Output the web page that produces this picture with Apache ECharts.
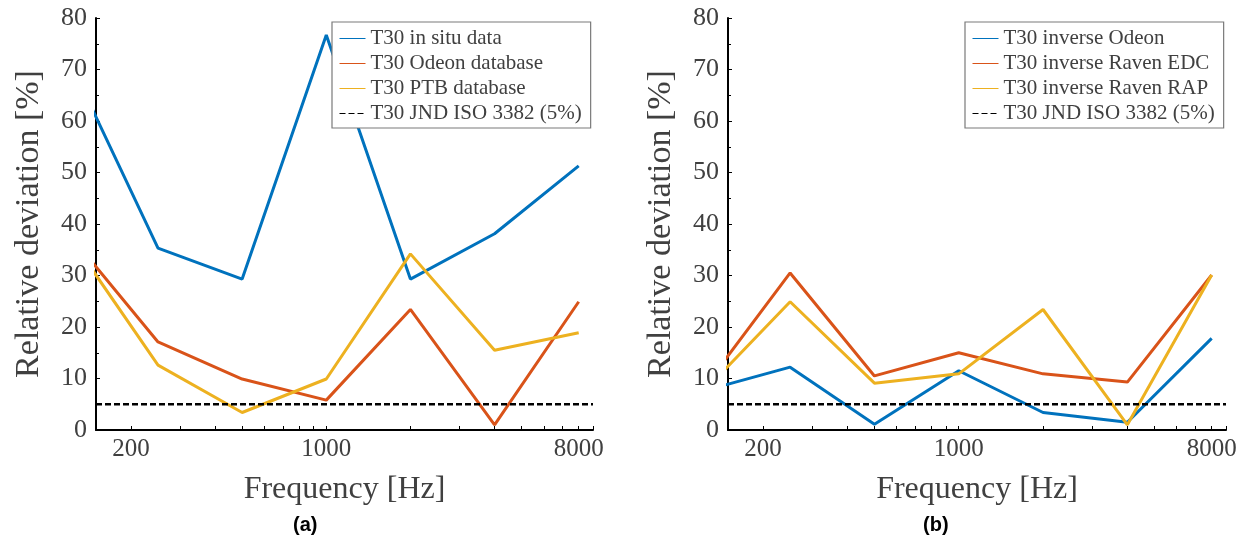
<!DOCTYPE html>
<html><head><meta charset="utf-8">
<script src="https://cdn.jsdelivr.net/npm/echarts@6/dist/echarts.min.js"></script>
<style>html,body{margin:0;padding:0;background:#fff}#c{width:1248px;height:542px}</style>
</head><body><div id="c"></div>
<script>
// ---- data ----
const freqs = [125, 250, 500, 1000, 2000, 4000, 8000];
const xMin = 150, xMax = 9000;
const JND = 5;
// panel (a)
const inSitu   = [69.9, 35.3, 29.3, 76.7, 29.3, 38.1, 51.3];
const odeonDb  = [36.9, 17.1, 9.9, 5.8, 23.4, 1.0, 24.9];
const ptbDb    = [36.3, 12.6, 3.4, 9.9, 34.2, 15.5, 18.9];
// panel (b)
const invOdeon = [7.7, 12.2, 1.1, 11.5, 3.4, 1.5, 17.8];
const invEDC   = [8.65, 30.5, 10.5, 15.0, 10.9, 9.3, 30.1];
const invRAP   = [7.9, 24.9, 9.1, 10.9, 23.4, 1.0, 30.1];
const xLabels = [200, 1000, 8000];
const xTicks = [200,300,400,500,600,700,800,900,1000,2000,3000,4000,5000,6000,7000,8000,9000];
const namesA = ['T30 in situ data','T30 Odeon database','T30 PTB database','T30 JND ISO 3382 (5%)'];
const namesB = ['T30 inverse Odeon','T30 inverse Raven EDC','T30 inverse Raven RAP','T30 JND ISO 3382 (5%)'];

const C = ['#0072BD', '#D95319', '#EDB120'];
const serif = 'Liberation Serif';
const pair = v => freqs.map((f, i) => [f, v[i]]);

function xAxis(idx) {
  return {
    type: 'log', logBase: 10, gridIndex: idx, min: xMin, max: xMax,
    name: 'Frequency [Hz]', nameLocation: 'middle', nameGap: 44,
    nameTextStyle: { fontFamily: serif, fontSize: 32, color: '#404040' },
    axisLine: { lineStyle: { color: '#000', width: 2 } },
    axisTick: { show: true, inside: true, length: 4, customValues: xTicks, lineStyle: { color: '#000', width: 1 } },
    minorTick: { show: false },
    splitLine: { show: false },
    axisLabel: { customValues: xLabels, formatter: v => String(Math.round(v)),
      fontFamily: serif, fontSize: 25, color: '#404040', margin: 7 }
  };
}
function yAxis(idx) {
  return {
    type: 'value', gridIndex: idx, min: 0, max: 80, interval: 10,
    name: 'Relative deviation [%]', nameLocation: 'middle', nameGap: 50,
    nameTextStyle: { fontFamily: serif, fontSize: 34, color: '#404040' },
    axisLine: { show: true, lineStyle: { color: '#000', width: 2 } },
    axisTick: { show: true, inside: true, length: 4, lineStyle: { color: '#000', width: 1 } },
    minorTick: { show: true, splitNumber: 2, length: 3, lineStyle: { color: '#000', width: 1 } },
    splitLine: { show: false },
    axisLabel: { fontFamily: serif, fontSize: 26, color: '#404040', margin: 9 }
  };
}
function ser(name, data, color, idx) {
  return { type: 'line', name, data: pair(data), xAxisIndex: idx, yAxisIndex: idx,
    symbol: 'none', clip: true, lineStyle: { color, width: 3 }, itemStyle: { color } };
}
function jnd(idx) {
  return { type: 'line', name: 'T30 JND ISO 3382 (5%)', data: [[xMin, JND], [xMax, JND]],
    xAxisIndex: idx, yAxisIndex: idx, symbol: 'none',
    lineStyle: { color: '#000', width: 2.5, type: [6, 3] }, itemStyle: { color: '#000' } };
}
function legend(names, left) {
  return {
    data: names, left, top: 22, orient: 'vertical',
    backgroundColor: '#fff', borderColor: '#7a7a7a', borderWidth: 1.2,
    padding: [6, 9, 4, 7], itemGap: 4, itemWidth: 26, itemHeight: 14,
    itemStyle: { opacity: 0 },
    lineStyle: { width: 1 },
    textStyle: { fontFamily: serif, fontSize: 21, color: '#404040', lineHeight: 21 },
    selectedMode: false
  };
}

const chart = echarts.init(document.getElementById('c'), null, { renderer: 'canvas' });
chart.setOption({
  animation: false,
  backgroundColor: '#fff',
  grid: [
    { left: 96, top: 18, width: 497, height: 412 },
    { left: 728, top: 18, width: 498, height: 412 }
  ],
  xAxis: [xAxis(0), xAxis(1)],
  yAxis: [yAxis(0), yAxis(1)],
  legend: [legend(namesA, 332), legend(namesB, 965)],
  series: [
    ser(namesA[0], inSitu, C[0], 0),
    ser(namesA[1], odeonDb, C[1], 0),
    ser(namesA[2], ptbDb, C[2], 0),
    jnd(0),
    ser(namesB[0], invOdeon, C[0], 1),
    ser(namesB[1], invEDC, C[1], 1),
    ser(namesB[2], invRAP, C[2], 1),
    jnd(1)
  ],
  graphic: [
    { type: 'text', left: 293, top: 515, style: { text: '(a)', font: 'bold 20px "Liberation Sans", Arial', fill: '#000' } },
    { type: 'text', left: 923, top: 515, style: { text: '(b)', font: 'bold 20px "Liberation Sans", Arial', fill: '#000' } }
  ]
});
</script></body></html>
